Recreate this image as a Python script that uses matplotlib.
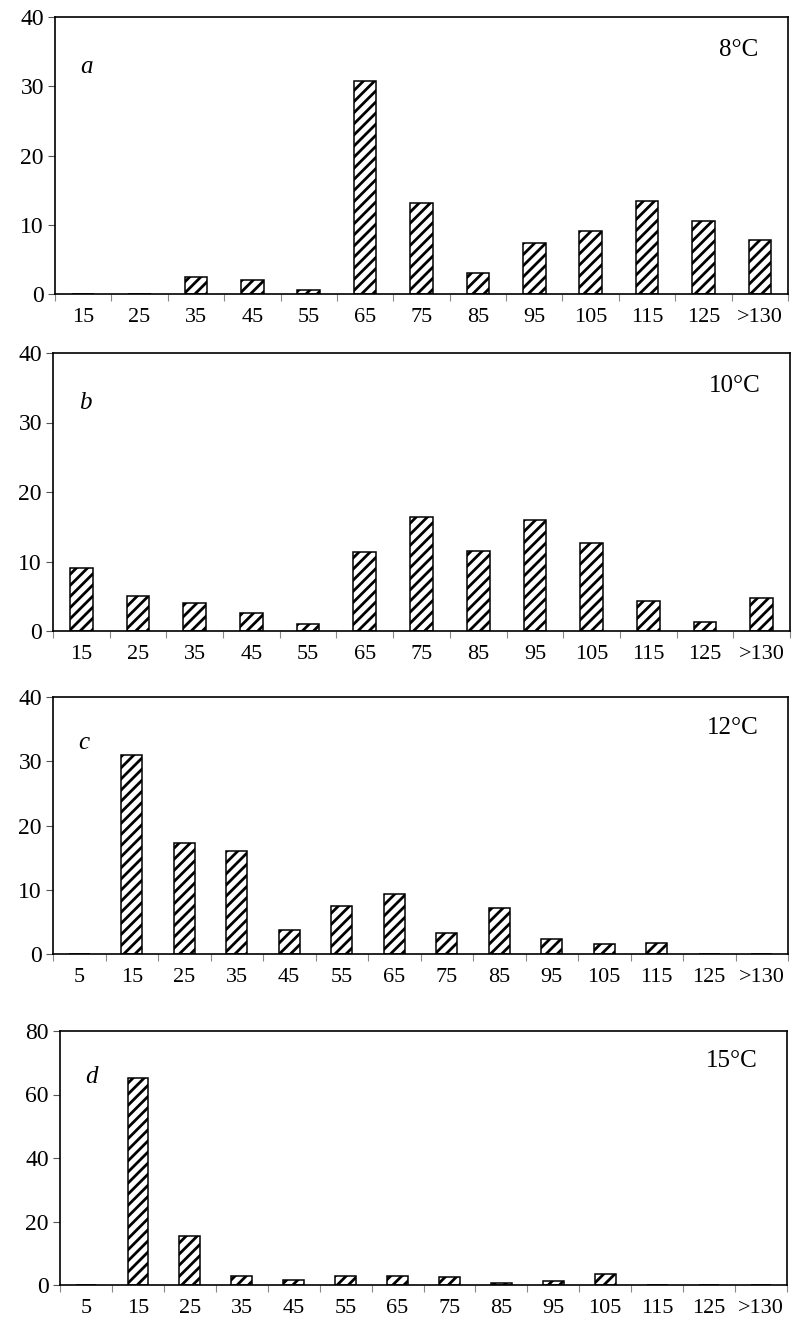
import glob
import numpy as np
import matplotlib.pyplot as plt
from matplotlib import font_manager as fm

# make sure the Times-like serif is registered
for f in glob.glob('/usr/share/fonts/**/LiberationSerif*.ttf', recursive=True):
    fm.fontManager.addfont(f)

plt.rcParams['font.family'] = ['Liberation Serif', 'DejaVu Serif']
plt.rcParams['hatch.linewidth'] = 2.0

cats_ab = ['15', '25', '35', '45', '55', '65', '75', '85', '95', '105', '115', '125', '>130']
cats_cd = ['5'] + cats_ab

vals_a = [0, 0, 2.5, 2.0, 0.6, 30.8, 13.2, 3.1, 7.3, 9.1, 13.4, 10.6, 7.8]
vals_b = [9.1, 5.1, 4.1, 2.6, 0.95, 11.4, 16.4, 11.5, 16.0, 12.65, 4.3, 1.25, 4.8]
vals_c = [0, 31.0, 17.3, 16.0, 3.8, 7.5, 9.3, 3.3, 7.1, 2.3, 1.5, 1.7, 0, 0]
vals_d = [0, 65.3, 15.4, 2.9, 1.7, 2.9, 2.9, 2.6, 0.6, 1.4, 3.4, 0, 0, 0]

panels = [
    ('a', '8°C', cats_ab, vals_a, 40, 10, (55, 17, 788, 294)),
    ('b', '10°C', cats_ab, vals_b, 40, 10, (53, 353, 790, 631)),
    ('c', '12°C', cats_cd, vals_c, 40, 10, (53, 697, 788, 954)),
    ('d', '15°C', cats_cd, vals_d, 80, 20, (60, 1031, 787, 1285)),
]

W, H = 796, 1321
fig = plt.figure(figsize=(W / 100, H / 100), dpi=100)

for letter, temp, cats, vals, ymax, ystep, box in panels:
    x0, y0, x1, y1 = box
    ax = fig.add_axes([x0 / W, 1 - y1 / H, (x1 - x0) / W, (y1 - y0) / H])
    x = np.arange(len(cats))
    ax.bar(x, vals, width=0.4, color='white', edgecolor='black',
           hatch='///', linewidth=1.1)
    ax.set_xlim(-0.5, len(cats) - 0.5)
    ax.set_ylim(0, ymax)
    ax.set_yticks(np.arange(0, ymax + 1, ystep))
    ax.set_xticks(x)
    ax.set_xticklabels(cats)
    ax.set_xticks(np.arange(-0.5, len(cats)), minor=True)
    ax.tick_params(axis='x', which='major', length=0, pad=10, labelsize=16)
    ax.tick_params(axis='x', which='minor', length=5, color='#888888', width=0.8)
    ax.tick_params(axis='y', length=5, width=0.8, color='#555555', pad=3, labelsize=17)
    for s in ax.spines.values():
        s.set_linewidth(1.2)
    ax.text(0.035, 0.82, letter, transform=ax.transAxes, fontsize=18,
            style='italic', va='center', ha='left')
    ax.text(0.96, 0.88, temp, transform=ax.transAxes, fontsize=18,
            va='center', ha='right')

fig.savefig('out.png', dpi=100)
